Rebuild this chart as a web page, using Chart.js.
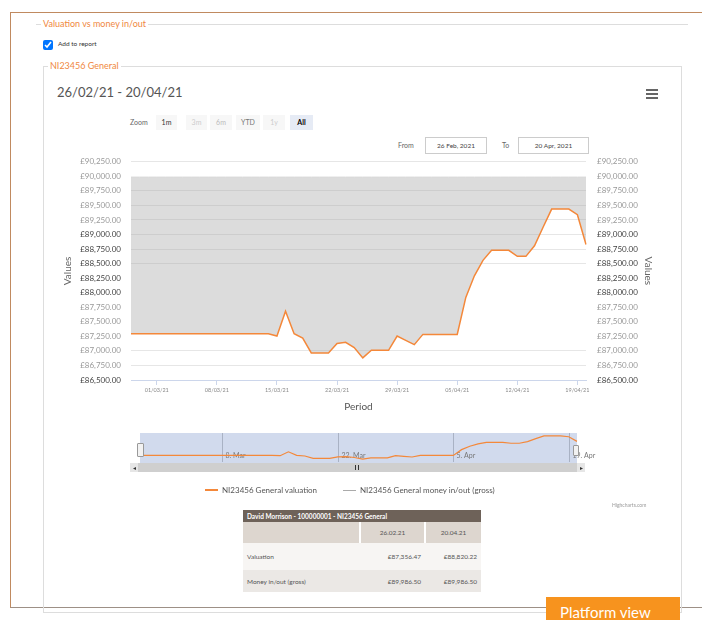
<!DOCTYPE html>
<html>
<head>
<meta charset="utf-8">
<script src="https://cdn.jsdelivr.net/npm/chart.js@4.4.1/dist/chart.umd.min.js"></script>
<style>
  body { margin: 0; width: 702px; height: 620px; position: relative; overflow: hidden; background: #fff; font-family: Lato, "Open Sans", sans-serif; }
  .abs { position: absolute; }
  .legendTxt { background: #fff; color: #f0883e; font-size: 9px; padding: 0 2px; line-height: 12px; }
  .rbtn { position: absolute; top: 115px; height: 15px; line-height: 15px; font-size: 7px; text-align: center; background: #f7f7f7; color: #333; }
  .box { position: absolute; top: 137px; height: 15px; line-height: 15px; border: 1px solid #ccc; font-size: 6.5px; color: #444; text-align: center; }
  table { position: absolute; left: 243px; top: 510px; width: 238px; border-collapse: collapse; font-size: 6.5px; color: #555; }
  td { padding: 0 4px; }
</style>
</head>
<body>
<!-- outer frame -->
<div class="abs" style="left:10px;top:12px;width:692px;height:594px;border-top:1px solid #c08a60;border-left:1px solid #c08a60;border-bottom:1px solid #9d9086;"></div>

<!-- first fieldset -->
<div class="abs" style="left:36px;top:24px;width:652px;height:1px;background:#ddd;"></div>
<div class="abs legendTxt" style="left:41px;top:18px;">Valuation vs money in/out</div>
<input type="checkbox" checked class="abs" style="left:43px;top:40px;width:10px;height:10px;margin:0;">
<div class="abs" style="left:58px;top:40px;font-size:6.5px;color:#333;">Add to report</div>

<!-- inner fieldset -->
<div class="abs" style="left:43px;top:66px;width:637px;height:545px;border:1px solid #ddd;"></div>
<div class="abs legendTxt" style="left:48px;top:60px;">NI23456 General</div>

<div class="abs" style="left:57px;top:84px;font-size:13px;color:#555;">26/02/21 - 20/04/21</div>
<div class="abs" style="left:646px;top:89px;width:12px;height:2px;background:#666;box-shadow:0 4px 0 #666,0 8px 0 #666;"></div>

<!-- range selector -->
<div class="abs" style="left:130px;top:115px;line-height:15px;font-size:7px;color:#666;">Zoom</div>
<div class="rbtn" style="left:156px;width:21px;">1m</div>
<div class="rbtn" style="left:186px;width:21px;color:#ccc;">3m</div>
<div class="rbtn" style="left:210px;width:22px;color:#bbb;">6m</div>
<div class="rbtn" style="left:236px;width:24px;color:#777;">YTD</div>
<div class="rbtn" style="left:263px;width:22px;color:#ccc;">1y</div>
<div class="rbtn" style="left:290px;width:23px;background:#e6ebf5;color:#000;font-weight:bold;">All</div>

<div class="abs" style="left:398px;top:137px;line-height:17px;font-size:7px;color:#666;">From</div>
<div class="box" style="left:425px;width:60px;">26 Feb, 2021</div>
<div class="abs" style="left:502px;top:137px;line-height:17px;font-size:7px;color:#666;">To</div>
<div class="box" style="left:518px;width:69px;">20 Apr, 2021</div>

<!-- main chart -->
<canvas id="mainChart" class="abs" width="630" height="271" style="left:40px;top:146px;"></canvas>

<!-- navigator -->
<canvas id="navChart" class="abs" width="470" height="30" style="left:131px;top:433px;"></canvas>
<div class="abs" style="left:137px;top:443px;width:5px;height:12px;background:#f2f2f2;border:1px solid #999;border-radius:1px;"></div>
<div class="abs" style="left:573px;top:445px;width:4px;height:9px;background:#f2f2f2;border:1px solid #999;border-radius:1px;"></div>
<div class="abs" style="left:130px;top:463px;width:455px;height:9px;background:#cfcfcf;"></div>
<div class="abs" style="left:130px;top:463px;width:8px;height:9px;background:#e6e6e6;font-size:6px;line-height:9px;text-align:center;color:#333;">&#9666;</div>
<div class="abs" style="left:577px;top:463px;width:8px;height:9px;background:#e6e6e6;font-size:6px;line-height:9px;text-align:center;color:#333;">&#9656;</div>
<div class="abs" style="left:355px;top:465px;width:1px;height:5px;background:#333;box-shadow:3px 0 0 #333;"></div>

<!-- legend -->
<div class="abs" style="left:205px;top:489px;width:13px;height:2px;background:#f4883a;"></div>
<div class="abs" style="left:222px;top:485px;font-size:8px;color:#555;">NI23456 General valuation</div>
<div class="abs" style="left:343px;top:490px;width:13px;height:1px;background:#aaa;"></div>
<div class="abs" style="left:360px;top:485px;font-size:8px;color:#555;">NI23456 General money in/out (gross)</div>
<div class="abs" style="left:612px;top:502px;font-size:5px;color:#999;">Highcharts.com</div>

<!-- table -->
<table>
  <tr style="height:12px;background:#6e6259;color:#fff;font-weight:bold;"><td colspan="3">David Morrison - 100000001 - NI23456 General</td></tr>
  <tr style="height:21px;background:#ddd6cf;">
    <td style="width:108px;border-right:2px solid #fff;"></td>
    <td style="width:55px;text-align:center;border-right:2px solid #fff;">26.02.21</td>
    <td style="text-align:center;">20.04.21</td>
  </tr>
  <tr style="height:27px;background:#f7f5f3;">
    <td>Valuation</td><td style="text-align:right;">£87,356.47</td><td style="text-align:right;">£88,820.22</td>
  </tr>
  <tr style="height:22px;background:#ebe8e5;">
    <td>Money in/out (gross)</td><td style="text-align:right;">£89,986.50</td><td style="text-align:right;">£89,986.50</td>
  </tr>
</table>

<!-- platform button -->
<div class="abs" style="left:681px;top:580px;width:1px;height:17px;background:#ddd;"></div>
<div class="abs" style="left:546px;top:597px;width:120px;height:30px;padding-left:14px;background:#f7931e;color:#fff;font-size:15px;line-height:30px;">Platform view</div>

<script>
// data
const dates = [
  '26/02/21', '27/02/21', '28/02/21',
  '01/03/21', '02/03/21', '03/03/21', '04/03/21', '05/03/21', '06/03/21', '07/03/21',
  '08/03/21', '09/03/21', '10/03/21', '11/03/21', '12/03/21', '13/03/21', '14/03/21',
  '15/03/21', '16/03/21', '17/03/21', '18/03/21', '19/03/21', '20/03/21', '21/03/21',
  '22/03/21', '23/03/21', '24/03/21', '25/03/21', '26/03/21', '27/03/21', '28/03/21',
  '29/03/21', '30/03/21', '31/03/21',
  '01/04/21', '02/04/21', '03/04/21', '04/04/21', '05/04/21', '06/04/21', '07/04/21',
  '08/04/21', '09/04/21', '10/04/21', '11/04/21', '12/04/21', '13/04/21', '14/04/21',
  '15/04/21', '16/04/21', '17/04/21', '18/04/21', '19/04/21', '20/04/21'
];

const valuation = [
  87296, 87296, 87296,
  87296, 87296, 87296, 87296, 87296, 87296, 87296,
  87296, 87296, 87296, 87296, 87296, 87296, 87296,
  87255, 87681, 87296, 87221, 86965, 86965, 86965,
  87126, 87148, 87057, 86880, 87011, 87011, 87011,
  87255, 87182, 87108,
  87284, 87284, 87284, 87284, 87284, 87920, 88290,
  88557, 88728, 88728, 88728, 88625, 88625, 88806,
  89125, 89437, 89437, 89437, 89341, 88830
];

const moneyInOut = [
  89986.5, 89986.5, 89986.5,
  89986.5, 89986.5, 89986.5, 89986.5, 89986.5, 89986.5, 89986.5,
  89986.5, 89986.5, 89986.5, 89986.5, 89986.5, 89986.5, 89986.5,
  89986.5, 89986.5, 89986.5, 89986.5, 89986.5, 89986.5, 89986.5,
  89986.5, 89986.5, 89986.5, 89986.5, 89986.5, 89986.5, 89986.5,
  89986.5, 89986.5, 89986.5,
  89986.5, 89986.5, 89986.5, 89986.5, 89986.5, 89986.5, 89986.5,
  89986.5, 89986.5, 89986.5, 89986.5, 89986.5, 89986.5, 89986.5,
  89986.5, 89986.5, 89986.5, 89986.5, 89986.5, 89986.5
];

const xTickLabels = ['01/03/21', '08/03/21', '15/03/21', '22/03/21', '29/03/21', '05/04/21', '12/04/21', '19/04/21'];
const navTickDates = ['08/03/21', '22/03/21', '05/04/21', '19/04/21'];
const navTickLabels = ['8. Mar', '22. Mar', '5. Apr', '19. Apr'];

// grid lines that the reference leaves out, and labels drawn darker
const hiddenGrid = [90000, 88250, 88000, 87750, 87500, 87250];
const darkTicks = [89000, 88750, 88500, 88250, 88000, 86500];

Chart.defaults.font.family = 'Lato, "Open Sans", sans-serif';

const money = v => '£' + v.toLocaleString('en-GB', { minimumFractionDigits: 2, maximumFractionDigits: 2 });
const tickColor = c => (c.tick && darkTicks.includes(c.tick.value)) ? '#444' : '#999';

new Chart(document.getElementById('mainChart'), {
  type: 'line',
  data: {
    labels: dates,
    datasets: [
      {
        label: 'NI23456 General valuation',
        data: valuation,
        borderColor: '#f4883a',
        borderWidth: 1.5,
        pointRadius: 0,
        fill: false
      },
      {
        label: 'NI23456 General money in/out (gross)',
        data: moneyInOut,
        borderColor: '#d4d4d4',
        borderWidth: 1,
        pointRadius: 0,
        backgroundColor: 'rgba(167,167,167,0.4)',
        fill: { target: 0 }
      }
    ]
  },
  options: {
    responsive: false,
    animation: false,
    layout: { padding: { top: 2, left: 0, right: 0, bottom: 0 } },
    plugins: { legend: { display: false }, tooltip: { enabled: false } },
    scales: {
      x: {
        afterFit: s => { s.height = 37; },
        border: { display: true, color: '#ccd6eb' },
        grid: { drawOnChartArea: false, drawTicks: true, tickLength: 5, color: '#ccd6eb' },
        ticks: {
          autoSkip: false, maxRotation: 0, padding: 2,
          font: { size: 5.5 }, color: '#888',
          callback: function (value, index) {
            const d = dates[index];
            return xTickLabels.includes(d) ? d : null;
          }
        },
        title: { display: true, text: 'Period', color: '#555', font: { size: 10 }, padding: { top: 0, bottom: 4 } }
      },
      y: {
        position: 'left',
        min: 86500, max: 90250,
        afterFit: s => { s.width = 91; },
        border: { display: false },
        grid: {
          drawTicks: false,
          color: c => (c.tick && hiddenGrid.includes(c.tick.value)) ? 'rgba(0,0,0,0)' : '#e6e6e6'
        },
        ticks: { stepSize: 250, padding: 10, font: { size: 8 }, color: tickColor, callback: v => money(v) },
        title: { display: true, text: 'Values', color: '#666', font: { size: 10 }, padding: { top: 22, bottom: 0 } }
      },
      y2: {
        position: 'right',
        min: 86500, max: 90250,
        afterFit: s => { s.width = 84; },
        border: { display: false },
        grid: { drawOnChartArea: false, drawTicks: false },
        ticks: { stepSize: 250, padding: 11, font: { size: 8 }, color: tickColor, callback: v => money(v) },
        title: { display: true, text: 'Values', color: '#666', font: { size: 10 }, padding: { top: 16, bottom: 0 } }
      }
    }
  }
});

// navigator: mask, date lines and labels drawn on the library's x scale
const navDecor = {
  id: 'navDecor',
  beforeDatasetsDraw(chart) {
    const { ctx, chartArea: a, scales: { x } } = chart;
    ctx.save();
    ctx.fillStyle = 'rgb(209,218,237)';
    ctx.fillRect(a.left, a.top, a.right - a.left, a.bottom - a.top);
    ctx.strokeStyle = '#a9b2c4';
    ctx.lineWidth = 1;
    ctx.fillStyle = '#777';
    ctx.font = '7px Lato, "Open Sans", sans-serif';
    ctx.textBaseline = 'middle';
    navTickDates.forEach((d, i) => {
      const px = Math.round(x.getPixelForValue(dates.indexOf(d))) + 0.5;
      ctx.beginPath();
      ctx.moveTo(px, a.top);
      ctx.lineTo(px, a.bottom - 1);
      ctx.stroke();
      ctx.fillText(navTickLabels[i], px + 3, 23);
    });
    ctx.restore();
  }
};

new Chart(document.getElementById('navChart'), {
  type: 'line',
  data: {
    labels: dates,
    datasets: [{ data: valuation, borderColor: '#f4883a', borderWidth: 1.2, pointRadius: 0, fill: false }]
  },
  options: {
    responsive: false,
    animation: false,
    layout: { padding: { left: 9, right: 24, top: 0, bottom: 0 } },
    plugins: { legend: { display: false }, tooltip: { enabled: false } },
    scales: {
      x: { display: false },
      y: { display: false, min: 86450, max: 89750 }
    }
  },
  plugins: [navDecor]
});
</script>
</body>
</html>
